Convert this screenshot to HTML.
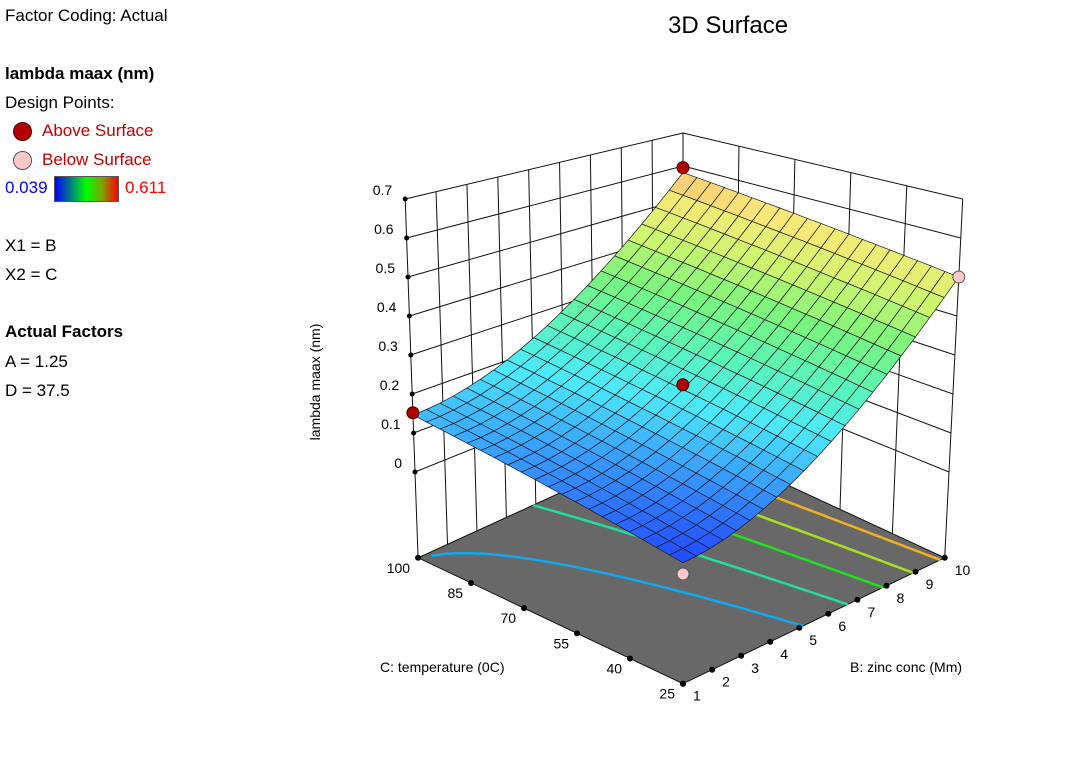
<!DOCTYPE html>
<html><head><meta charset="utf-8">
<style>
body{margin:0;background:#fff;width:1092px;height:768px;overflow:hidden;font-family:"Liberation Sans",sans-serif;}
.t{position:absolute;font-size:17px;color:#000;white-space:nowrap;}
</style></head>
<body>
<div class="t" style="left:5px;top:6px;">Factor Coding: Actual</div>
<div class="t" style="left:5px;top:64px;font-weight:bold;">lambda maax (nm)</div>
<div class="t" style="left:5px;top:93px;">Design Points:</div>
<div style="position:absolute;left:13px;top:122px;width:17px;height:17px;border-radius:50%;background:#b00000;border:1px solid #400;"></div>
<div class="t" style="left:42px;top:121px;color:#c00000;">Above Surface</div>
<div style="position:absolute;left:13px;top:151px;width:17px;height:17px;border-radius:50%;background:#fcc8c8;border:1px solid #555;"></div>
<div class="t" style="left:42px;top:150px;color:#c00000;">Below Surface</div>
<div class="t" style="left:5px;top:178px;color:#0000ff;">0.039</div>
<div style="position:absolute;left:54px;top:176px;width:63px;height:24px;border:1px solid #555;background:linear-gradient(to right,#0000ff,#00ff00 50%,#80a000 75%,#ff0000);"></div>
<div class="t" style="left:125px;top:178px;color:#ff0000;">0.611</div>
<div class="t" style="left:5px;top:236px;">X1 = B</div>
<div class="t" style="left:5px;top:265px;">X2 = C</div>
<div class="t" style="left:5px;top:322px;font-weight:bold;">Actual Factors</div>
<div class="t" style="left:5px;top:352px;">A = 1.25</div>
<div class="t" style="left:5px;top:381px;">D = 37.5</div>
<div class="t" style="left:668px;top:12px;font-size:24px;">3D Surface</div>
<svg id="plot" width="1092" height="768" style="position:absolute;left:0;top:0;"></svg>
<script>
// model coefficients: z = a + b*u + e*u^2 + c*v + d*u*v (u = B scaled, v = C scaled)
const coefA = [0.039];
const coefB = [0.036];
const coefE = [0.425];
const coefC = [0.107];
const coefD = [-0.027];
const bTicks = [1,2,3,4,5,6,7,8,9,10];
const cTicks = [25,40,55,70,85,100];
const zTicks = [0,0.1,0.2,0.3,0.4,0.5,0.6,0.7];
const zTickLabels = ["0","0.1","0.2","0.3","0.4","0.5","0.6","0.7"];
const contourLevels = [0.145,0.23,0.315,0.40,0.485];
const contourColors = ["#10a8f0","#20e0a0","#20e020","#a8e020","#f0b020"];
const ptB = [10,1,10,5.5,1];
const ptC = [100,100,25,62.5,25];
const ptZ = [0.595,0.152,0.50,0.222,0.015];
const ptAbove = [1,1,0,1,0];

const Bmin=1,Bmax=10,Cmin=25,Cmax=100,FLOOR=-0.22,ZTOP=0.7,N=20;
const svg=document.getElementById('plot');
const NS='http://www.w3.org/2000/svg';
function mk(t,a,name){const e=document.createElementNS(NS,t);for(const k in a)e.setAttribute(k,a[k]);


svg.appendChild(e);return e;}
const CF=[683,581,0,-467],CR=[949,472,19.6,-390],CL=[415,472,-14,-390],CK=[683,364,0,-330];
function P(u,v,z){const w=[(1-u)*(1-v),u*(1-v),(1-u)*v,u*v];const cs=[CF,CR,CL,CK];
let x=0,y=0;for(let i=0;i<4;i++){x+=w[i]*(cs[i][0]+cs[i][2]*z);y+=w[i]*(cs[i][1]+cs[i][3]*z);}return [x,y];}
const uB=b=>(b-Bmin)/(Bmax-Bmin), vC=c=>(c-Cmin)/(Cmax-Cmin);
function Z(u,v){return coefA[0]+coefB[0]*u+coefE[0]*u*u+coefC[0]*v+coefD[0]*u*v;}
function pts(a){return a.map(p=>p[0].toFixed(1)+','+p[1].toFixed(1)).join(' ');}
function line(p,q,st,w,name){mk('line',{x1:p[0],y1:p[1],x2:q[0],y2:q[1],stroke:st,'stroke-width':w},name);}
for(const b of bTicks){const u=uB(b);line(P(u,1,FLOOR),P(u,1,ZTOP),'#111',1,'left-wall-gridline');}
for(const c of cTicks){const v=vC(c);line(P(1,v,FLOOR),P(1,v,ZTOP),'#111',1,'right-wall-gridline');}
for(const z of zTicks){line(P(0,1,z),P(1,1,z),'#111',1,'left-wall-hline');line(P(1,1,z),P(1,0,z),'#111',1,'right-wall-hline');}
mk('polygon',{points:pts([P(0,0,FLOOR),P(1,0,FLOOR),P(1,1,FLOOR),P(0,1,FLOOR)]),fill:'#686868',stroke:'#111','stroke-width':1},'floor');
contourLevels.forEach((L,i)=>{const arr=[];for(let k=0;k<=60;k++){const v=k/60;const A=coefE[0],Bq=coefB[0]+coefD[0]*v,Cq=coefA[0]+coefC[0]*v-L;
const disc=Bq*Bq-4*A*Cq;if(disc<0)continue;const u=(-Bq+Math.sqrt(disc))/(2*A);if(u>=0&&u<=1)arr.push(P(u,v,FLOOR));}
if(arr.length>1)mk('polyline',{points:pts(arr),fill:'none',stroke:contourColors[i],'stroke-width':2.5},'contour-line');});
bTicks.forEach(b=>{const p=P(uB(b),0,FLOOR);mk('circle',{cx:p[0],cy:p[1],r:3,fill:'#000'},'b-tick');
const t=mk('text',{x:p[0]+10,y:p[1]+17,'font-size':14,'font-family':'Liberation Sans'},'b-tick-label');t.textContent=b;});
cTicks.forEach(c=>{const p=P(0,vC(c),FLOOR);mk('circle',{cx:p[0],cy:p[1],r:3,fill:'#000'},'c-tick');
const t=mk('text',{x:p[0]-8,y:p[1]+15,'font-size':14,'text-anchor':'end','font-family':'Liberation Sans'},'c-tick-label');t.textContent=c;});
zTicks.forEach((z,i)=>{const p=P(0,1,z);mk('circle',{cx:p[0],cy:p[1],r:2.5,fill:'#000'},'z-tick');
const t=mk('text',{x:p[0]-13,y:p[1]-4,'font-size':14,'text-anchor':'end','font-family':'Liberation Sans'},'z-tick-label');t.textContent=zTickLabels[i];});
const stops=[[0,[35,75,255]],[0.12,[55,150,255]],[0.26,[75,232,255]],[0.4,[90,245,185]],[0.55,[120,245,125]],[0.7,[205,245,110]],[0.86,[250,232,120]],[1,[248,160,115]]];
function col(z){let t=(z-0.039)/0.572;t=Math.max(0,Math.min(1,t));for(let i=1;i<stops.length;i++){if(t<=stops[i][0]){const a=stops[i-1],b=stops[i],f=(t-a[0])/(b[0]-a[0]);
return 'rgb('+a[1].map((x,j)=>Math.round(x+(b[1][j]-x)*f)).join(',')+')';}}return 'rgb(248,160,115)';}
const cells=[];for(let i=0;i<N;i++)for(let j=0;j<N;j++)cells.push([i,j]);
cells.sort((a,b)=>(b[0]+b[1])-(a[0]+a[1]));
cells.forEach(([i,j])=>{const u0=i/N,u1=(i+1)/N,v0=j/N,v1=(j+1)/N;
const zc=Z((u0+u1)/2,(v0+v1)/2);
mk('polygon',{points:pts([P(u0,v0,Z(u0,v0)),P(u1,v0,Z(u1,v0)),P(u1,v1,Z(u1,v1)),P(u0,v1,Z(u0,v1))]),fill:col(zc),stroke:'#1a1a1a','stroke-width':0.7,'stroke-linejoin':'round'},'surface-cell');});
ptB.forEach((b,i)=>{const p=P(uB(b),vC(ptC[i]),ptZ[i]);
mk('circle',{cx:p[0],cy:p[1],r:6,fill:ptAbove[i]?'#b00000':'#fcc8c8',stroke:ptAbove[i]?'#400':'#555','stroke-width':1},'design-point');});
let t=mk('text',{x:850,y:672,'font-size':14,'font-family':'Liberation Sans'},'b-axis-title');t.textContent='B: zinc conc (Mm)';
t=mk('text',{x:380,y:672,'font-size':14,'font-family':'Liberation Sans'},'c-axis-title');t.textContent='C: temperature (0C)';
t=mk('text',{x:0,y:0,'font-size':14,'font-family':'Liberation Sans','text-anchor':'middle',transform:'translate(320,382) rotate(-90)'},'z-axis-title');t.textContent='lambda maax (nm)';
</script>
</body></html>
